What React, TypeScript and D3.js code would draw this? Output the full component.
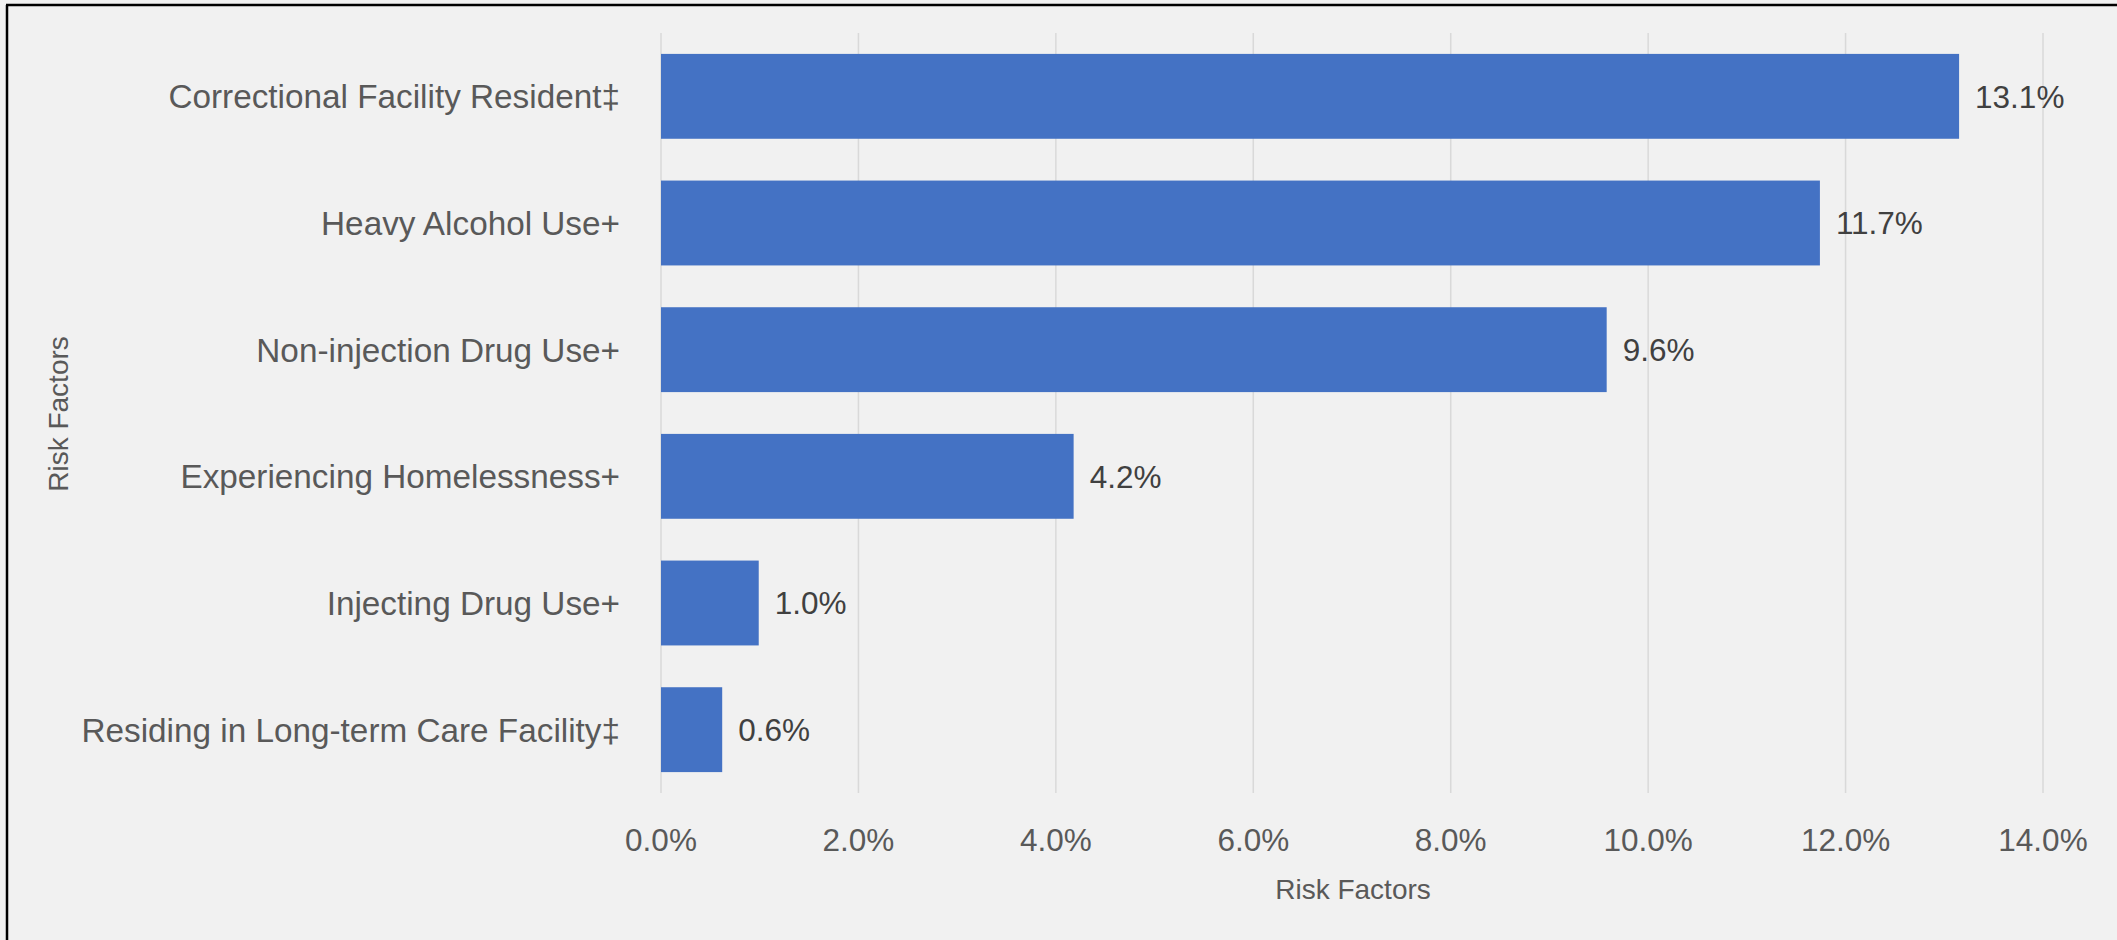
import React from "react";
import * as d3 from "d3";

const categories = [
  "Correctional Facility Resident‡",
  "Heavy Alcohol Use+",
  "Non-injection Drug Use+",
  "Experiencing Homelessness+",
  "Injecting Drug Use+",
  "Residing in Long-term Care Facility‡",
];
const values = [13.15, 11.74, 9.58, 4.18, 0.99, 0.62];
const valueLabels = ["13.1%", "11.7%", "9.6%", "4.2%", "1.0%", "0.6%"];
const xTicks = [0, 2, 4, 6, 8, 10, 12, 14];
const axisTitleX = "Risk Factors";
const axisTitleY = "Risk Factors";

const W = 2117;
const H = 940;
const FONT = "'Liberation Sans', Arial, sans-serif";

export default function App() {
  const x = d3.scaleLinear().domain([0, 14]).range([661, 2043]);
  const y = d3
    .scaleBand<string>()
    .domain(categories)
    .range([33, 793])
    .paddingInner(0.33)
    .paddingOuter(0.165);

  return (
    <svg
      width={W}
      height={H}
      style={{ position: "absolute", left: 0, top: 0, display: "block" }}
    >
      <rect x={0} y={0} width={W} height={H} fill="#f1f1f1" />
      {/* frame: left and top */}
      <line x1={7} y1={5} x2={7} y2={H} stroke="#000" strokeWidth={2.5} />
      <line x1={6} y1={5} x2={W} y2={5} stroke="#000" strokeWidth={2.5} />

      {/* gridlines */}
      {xTicks.map((t) => (
        <line
          key={"g" + t}
          x1={x(t)}
          x2={x(t)}
          y1={33}
          y2={793}
          stroke="#d9d9d9"
          strokeWidth={1.5}
        />
      ))}

      {/* bars */}
      {categories.map((c, i) => (
        <rect
          key={"b" + c}
          x={x(0)}
          y={y(c)}
          width={x(values[i]) - x(0)}
          height={y.bandwidth()}
          fill="#4472c4"
        />
      ))}

      {/* data labels */}
      {categories.map((c, i) => (
        <text
          key={"v" + c}
          x={x(values[i]) + 16}
          y={(y(c) as number) + y.bandwidth() / 2}
          dy="0.36em"
          fontFamily={FONT}
          fontSize={31.5}
          fill="#404040"
        >
          {valueLabels[i]}
        </text>
      ))}

      {/* category labels */}
      {categories.map((c) => (
        <text
          key={"c" + c}
          x={620}
          y={(y(c) as number) + y.bandwidth() / 2}
          dy="0.36em"
          textAnchor="end"
          fontFamily={FONT}
          fontSize={33.3}
          fill="#595959"
        >
          {c}
        </text>
      ))}

      {/* x tick labels */}
      {xTicks.map((t) => (
        <text
          key={"t" + t}
          x={x(t)}
          y={851}
          textAnchor="middle"
          fontFamily={FONT}
          fontSize={31.5}
          fill="#595959"
        >
          {d3.format(".1f")(t) + "%"}
        </text>
      ))}

      {/* axis titles */}
      <text
        x={1353}
        y={899}
        textAnchor="middle"
        fontFamily={FONT}
        fontSize={28}
        fill="#595959"
      >
        {axisTitleX}
      </text>
      <text
        transform={`translate(68,414) rotate(-90)`}
        textAnchor="middle"
        fontFamily={FONT}
        fontSize={28}
        fill="#595959"
      >
        {axisTitleY}
      </text>
    </svg>
  );
}
